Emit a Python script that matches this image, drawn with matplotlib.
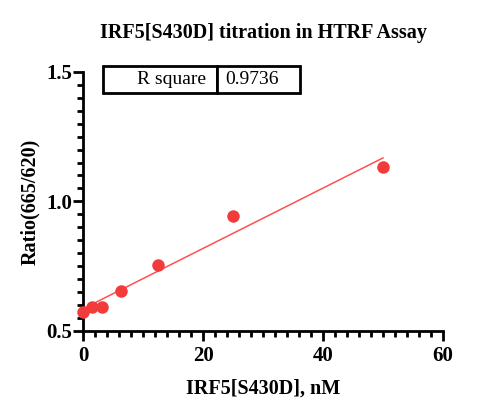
import matplotlib
matplotlib.use('Agg')
import matplotlib.pyplot as plt
from matplotlib.ticker import MultipleLocator
import numpy as np

plt.rcParams['font.family'] = ['Liberation Serif', 'DejaVu Serif']

conc = [0, 1.5625, 3.125, 6.25, 12.5, 25, 50]
ratio = [0.575, 0.594, 0.593, 0.654, 0.754, 0.944, 1.131]
r_square = '0.9736'

title = 'IRF5[S430D] titration in HTRF Assay'
xlabel = 'IRF5[S430D], nM'
ylabel = 'Ratio(665/620)'

red = '#f23c3c'

fig = plt.figure(figsize=(5, 4.2), dpi=100)
ax = fig.add_axes([0.166, 0.212, 0.72, 0.617])

# linear fit
slope, icept = np.polyfit(conc, ratio, 1)
xf = np.array([min(conc), max(conc)])
ax.plot(xf, slope * xf + icept, color='#ff5050', lw=1.1, zorder=2)
ax.plot(conc, ratio, 'o', color=red, ms=9, mec='none', zorder=3, clip_on=False)

ax.set_xlim(0, 60)
ax.set_ylim(0.5, 1.5)
ax.set_xticks([0, 20, 40, 60])
ax.set_yticks([0.5, 1.0, 1.5])
ax.set_yticklabels(['0.5', '1.0', '1.5'])
ax.xaxis.set_minor_locator(MultipleLocator(2))
ax.yaxis.set_minor_locator(MultipleLocator(0.05))

for s in ['top', 'right']:
    ax.spines[s].set_visible(False)
for s in ['left', 'bottom']:
    ax.spines[s].set_linewidth(2)
ax.tick_params(which='major', length=7, width=2, labelsize=15)
ax.tick_params(axis='y', which='major', pad=1)
ax.tick_params(axis='x', which='major', pad=4)
ax.tick_params(which='minor', length=4, width=2)
for lab in ax.get_xticklabels() + ax.get_yticklabels():
    lab.set_fontweight('bold')

ax.set_xlabel(xlabel, fontsize=14.5, fontweight='bold', labelpad=9)
ax.set_ylabel(ylabel, fontsize=14.5, fontweight='bold', labelpad=4)
ax.set_title(title, fontsize=14.5, fontweight='bold', pad=24)

tbl = ax.table(cellText=[['R square', r_square]], cellLoc='left',
               colWidths=[0.316, 0.231], bbox=[0.056, 0.917, 0.547, 0.106])
tbl.auto_set_font_size(False)
for (r, c), cell in tbl.get_celld().items():
    cell.set_linewidth(2)
    cell.get_text().set_fontsize(14)
    if c == 0:
        cell.get_text().set_ha('right')
        cell._loc = 'right'
tbl.set_clip_on(False)

fig.savefig('out.png')
